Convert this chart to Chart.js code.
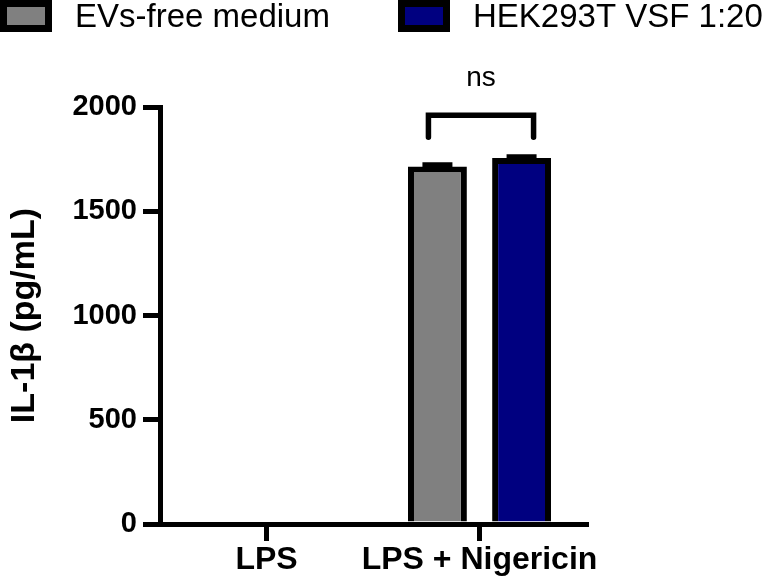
<!DOCTYPE html>
<html lang="en">
<head>
  <meta charset="UTF-8"/>
  <title>IL-1β</title>
  <script src="https://cdn.jsdelivr.net/npm/chart.js"></script>
  <style>
    body { margin: 0; background: #fff; }
    canvas { display: block; }
  </style>
</head>
<body>
  <canvas id="chart" width="767" height="582"></canvas>

  <script>
    // values
    const categories = ['LPS', 'LPS + Nigericin'];
    const seriesNames = ['EVs-free medium', 'HEK293T VSF 1:20'];
    const evsFree = [0, 1715];
    const evsFreeErr = [0, 8];
    const hekVsf = [0, 1755];
    const hekVsfErr = [0, 6];
    const yMax = 2000, yStep = 500;
    const sigText = 'ns';
    const sigBarValue = 1960, sigLegValue = 1855, sigTextValue = 2140;

    const FONT = "'Liberation Sans', Arial, sans-serif";

    // error bars (SEM) on top of each bar
    const errorBars = {
      id: 'errorBars',
      afterDatasetsDraw(chart) {
        const ctx = chart.ctx, y = chart.scales.y;
        chart.data.datasets.forEach((ds, i) => {
          chart.getDatasetMeta(i).data.forEach((bar, j) => {
            const e = ds.err[j];
            if (!e) return;
            const top = y.getPixelForValue(ds.data[j] + e);
            const bot = y.getPixelForValue(ds.data[j] - e);
            ctx.save();
            ctx.strokeStyle = '#000';
            ctx.lineWidth = 5;
            ctx.beginPath();
            ctx.moveTo(bar.x, top); ctx.lineTo(bar.x, bot);
            ctx.moveTo(bar.x - 15, top); ctx.lineTo(bar.x + 15, top);
            ctx.stroke();
            ctx.restore();
          });
        });
      }
    };

    // significance bracket between the two LPS + Nigericin bars
    const sigBracket = {
      id: 'sigBracket',
      afterDraw(chart) {
        const ctx = chart.ctx, y = chart.scales.y;
        const a = chart.getDatasetMeta(0).data[1];
        const b = chart.getDatasetMeta(1).data[1];
        const x1 = a.x - 9, x2 = b.x + 12;
        const yb = y.getPixelForValue(sigBarValue);
        const yl = y.getPixelForValue(sigLegValue);
        ctx.save();
        ctx.strokeStyle = '#000';
        ctx.lineWidth = 5.5;
        ctx.lineCap = 'round';
        ctx.lineJoin = 'miter';
        ctx.beginPath();
        ctx.moveTo(x1, yl); ctx.lineTo(x1, yb); ctx.lineTo(x2, yb); ctx.lineTo(x2, yl);
        ctx.stroke();
        ctx.fillStyle = '#000';
        ctx.font = '28px ' + FONT;
        ctx.textAlign = 'center';
        ctx.textBaseline = 'middle';
        ctx.fillText(sigText, (x1 + x2) / 2, y.getPixelForValue(sigTextValue));
        ctx.restore();
      }
    };

    // legend row across the top
    const legendRow = {
      id: 'legendRow',
      afterDraw(chart) {
        const ctx = chart.ctx;
        const xs = [0, 398];
        chart.data.datasets.forEach((ds, i) => {
          const x = xs[i];
          ctx.save();
          ctx.fillStyle = ds.backgroundColor;
          ctx.fillRect(x + 3.5, 3.5, 45, 25);
          ctx.strokeStyle = '#000';
          ctx.lineWidth = 7;
          ctx.strokeRect(x + 3.5, 3.5, 45, 25);
          ctx.fillStyle = '#000';
          ctx.font = '33px ' + FONT;
          ctx.textBaseline = 'alphabetic';
          ctx.fillText(ds.label, x + 75, 27);
          ctx.restore();
        });
      }
    };

    new Chart(document.getElementById('chart'), {
      type: 'bar',
      data: {
        labels: categories,
        datasets: [
          {
            label: seriesNames[0],
            data: evsFree,
            err: evsFreeErr,
            backgroundColor: '#808080',
            borderColor: '#000',
            borderWidth: 6
          },
          {
            label: seriesNames[1],
            data: hekVsf,
            err: hekVsfErr,
            backgroundColor: '#000080',
            borderColor: '#000',
            borderWidth: 6
          }
        ]
      },
      options: {
        responsive: false,
        animation: false,
        events: [],
        categoryPercentage: 0.79,
        barPercentage: 0.70,
        layout: { padding: { top: 107, right: 181, bottom: 0, left: 0 } },
        plugins: { legend: { display: false }, tooltip: { enabled: false } },
        scales: {
          x: {
            afterFit(s) { s.height = 58; s.paddingLeft = 0; s.paddingRight = 0; },
            grid: { drawOnChartArea: false, offset: false, tickLength: 17, lineWidth: 5, color: '#000' },
            border: { color: '#000', width: 5 },
            ticks: {
              color: '#000', padding: 0, autoSkip: false, maxRotation: 0, minRotation: 0,
              font: { family: FONT, size: 32, weight: 'bold' }
            }
          },
          y: {
            min: 0,
            max: yMax,
            afterFit(s) { s.width = 160; },
            grid: { drawOnChartArea: false, tickLength: 17, lineWidth: 5, color: '#000' },
            border: { color: '#000', width: 5 },
            ticks: {
              stepSize: yStep, color: '#000', padding: 6,
              callback: v => String(v),
              font: { family: FONT, size: 29, weight: 'bold' }
            },
            title: {
              display: true,
              text: 'IL-1β (pg/mL)',
              color: '#000',
              padding: { top: 4, bottom: 0 },
              font: { family: FONT, size: 34, weight: 'bold' }
            }
          }
        }
      },
      plugins: [errorBars, sigBracket, legendRow]
    });
  </script>
</body>
</html>
